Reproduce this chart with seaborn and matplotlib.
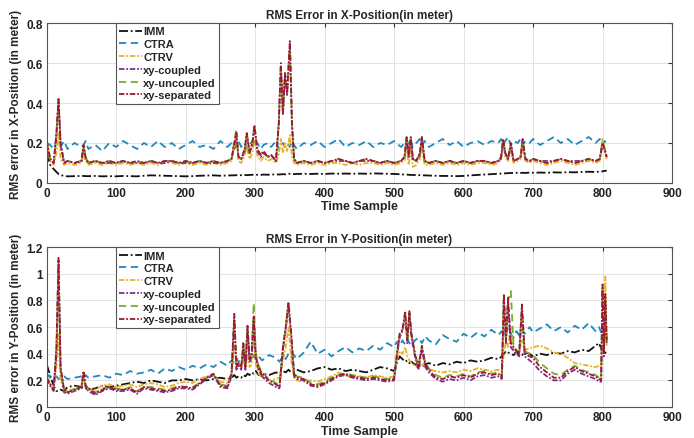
import matplotlib
matplotlib.use("Agg")
import matplotlib.pyplot as plt
import seaborn as sns

NAMES = ["IMM", "CTRA", "CTRV", "xy-coupled", "xy-uncoupled", "xy-separated"]
COLORS = ["#111111", "#1f88bd", "#e8b12a", "#7e2f8e", "#77ac30", "#a2142f"]
STYLES = [(0, (5, 1.5, 1, 1.5)), (0, (4, 2.5)), (0, (3, 1, 1, 1)),
          (0, (3, 1, 1, 1)), (0, (4, 2.5)), (0, (3, 1, 1, 1))]

# ---- X-position (top panel) ----
x_top = [0, 5, 10, 14, 17, 20, 25, 30, 40, 50,
         53, 56, 60, 70, 80, 90, 100, 110, 120, 130,
         140, 150, 160, 170, 180, 190, 200, 210, 220, 230,
         240, 250, 260, 266, 270, 273, 276, 280, 285, 288,
         292, 296, 299, 303, 308, 312, 318, 323, 330, 334,
         337, 340, 343, 346, 350, 353, 356, 360, 370, 380,
         390, 400, 410, 420, 430, 440, 450, 460, 470, 480,
         490, 500, 510, 515, 518, 521, 524, 527, 532, 537,
         540, 544, 550, 560, 570, 580, 590, 600, 610, 620,
         630, 640, 650, 654, 657, 660, 664, 668, 672, 678,
         682, 685, 689, 695, 700, 710, 720, 730, 740, 750,
         760, 770, 780, 790, 796, 800, 803, 806]

imm_x = [0.15, 0.09, 0.07, 0.055, 0.045, 0.04, 0.035, 0.033, 0.034, 0.035,
         0.035, 0.034, 0.034, 0.035, 0.033, 0.034, 0.033, 0.035, 0.034, 0.033,
         0.036, 0.038, 0.037, 0.036, 0.035, 0.034, 0.033, 0.034, 0.036, 0.037,
         0.038, 0.036, 0.037, 0.038, 0.038, 0.039, 0.038, 0.039, 0.040, 0.039,
         0.040, 0.041, 0.040, 0.041, 0.040, 0.042, 0.041, 0.042, 0.043, 0.042,
         0.043, 0.044, 0.043, 0.045, 0.046, 0.045, 0.044, 0.045, 0.046, 0.045,
         0.046, 0.045, 0.047, 0.046, 0.047, 0.046, 0.047, 0.046, 0.048, 0.047,
         0.046, 0.045, 0.043, 0.042, 0.042, 0.041, 0.040, 0.040, 0.039, 0.039,
         0.038, 0.038, 0.037, 0.036, 0.035, 0.035, 0.034, 0.035, 0.038, 0.040,
         0.042, 0.044, 0.046, 0.047, 0.048, 0.048, 0.049, 0.050, 0.050, 0.051,
         0.050, 0.051, 0.050, 0.052, 0.051, 0.052, 0.051, 0.053, 0.052, 0.054,
         0.053, 0.055, 0.056, 0.055, 0.057, 0.058, 0.060, 0.062]

ctra_x = [0.20, 0.19, 0.17, 0.21, 0.19, 0.18, 0.21, 0.17, 0.20, 0.18,
          0.19, 0.21, 0.17, 0.19, 0.16, 0.20, 0.18, 0.21, 0.19, 0.17,
          0.20, 0.18, 0.21, 0.18, 0.20, 0.17, 0.19, 0.21, 0.18, 0.19,
          0.17, 0.21, 0.18, 0.20, 0.17, 0.19, 0.21, 0.18, 0.20, 0.17,
          0.19, 0.21, 0.18, 0.20, 0.17, 0.19, 0.20, 0.18, 0.21, 0.17,
          0.19, 0.20, 0.18, 0.20, 0.18, 0.21, 0.19, 0.17, 0.20, 0.19,
          0.21, 0.18, 0.20, 0.22, 0.18, 0.20, 0.19, 0.21, 0.18, 0.20,
          0.19, 0.21, 0.18, 0.20, 0.22, 0.19, 0.21, 0.18, 0.20, 0.22,
          0.19, 0.21, 0.18, 0.20, 0.22, 0.19, 0.21, 0.18, 0.20, 0.21,
          0.19, 0.21, 0.20, 0.22, 0.19, 0.21, 0.23, 0.19, 0.21, 0.20,
          0.22, 0.19, 0.21, 0.20, 0.22, 0.19, 0.21, 0.23, 0.20, 0.22,
          0.19, 0.21, 0.23, 0.20, 0.22, 0.19, 0.21, 0.20]

ctrv_x = [0.20, 0.11, 0.09, 0.15, 0.25, 0.12, 0.09, 0.10, 0.09, 0.10,
          0.15, 0.11, 0.09, 0.10, 0.09, 0.10, 0.09, 0.10, 0.09, 0.10,
          0.09, 0.10, 0.09, 0.10, 0.10, 0.09, 0.10, 0.09, 0.10, 0.09,
          0.10, 0.09, 0.10, 0.11, 0.18, 0.22, 0.11, 0.10, 0.14, 0.18,
          0.12, 0.15, 0.22, 0.14, 0.11, 0.13, 0.11, 0.12, 0.10, 0.14,
          0.22, 0.15, 0.20, 0.16, 0.24, 0.13, 0.10, 0.09, 0.10, 0.09,
          0.10, 0.09, 0.10, 0.10, 0.09, 0.10, 0.09, 0.10, 0.10, 0.09,
          0.10, 0.09, 0.10, 0.11, 0.18, 0.09, 0.17, 0.08, 0.09, 0.12,
          0.17, 0.09, 0.09, 0.10, 0.09, 0.10, 0.09, 0.10, 0.09, 0.10,
          0.10, 0.09, 0.10, 0.12, 0.20, 0.13, 0.11, 0.16, 0.10, 0.11,
          0.12, 0.17, 0.11, 0.10, 0.11, 0.10, 0.09, 0.10, 0.11, 0.10,
          0.09, 0.10, 0.11, 0.10, 0.11, 0.22, 0.16, 0.12]

coupled_x = [0.21, 0.12, 0.10, 0.24, 0.41, 0.19, 0.10, 0.11, 0.10, 0.11,
             0.18, 0.12, 0.10, 0.11, 0.10, 0.10, 0.10, 0.11, 0.10, 0.10,
             0.10, 0.11, 0.10, 0.10, 0.11, 0.10, 0.10, 0.10, 0.11, 0.10,
             0.10, 0.10, 0.11, 0.12, 0.19, 0.24, 0.13, 0.12, 0.16, 0.24,
             0.15, 0.19, 0.28, 0.16, 0.13, 0.15, 0.13, 0.14, 0.11, 0.29,
             0.58, 0.34, 0.54, 0.44, 0.69, 0.29, 0.12, 0.10, 0.11, 0.10,
             0.11, 0.10, 0.11, 0.11, 0.11, 0.10, 0.11, 0.11, 0.11, 0.10,
             0.11, 0.10, 0.11, 0.13, 0.22, 0.13, 0.22, 0.12, 0.11, 0.14,
             0.22, 0.11, 0.10, 0.11, 0.10, 0.11, 0.10, 0.11, 0.10, 0.11,
             0.11, 0.10, 0.11, 0.12, 0.21, 0.15, 0.12, 0.19, 0.11, 0.12,
             0.13, 0.21, 0.12, 0.11, 0.12, 0.11, 0.11, 0.11, 0.12, 0.11,
             0.11, 0.11, 0.12, 0.11, 0.12, 0.19, 0.17, 0.13]

uncoupled_x = [0.21, 0.12, 0.10, 0.25, 0.42, 0.20, 0.10, 0.11, 0.10, 0.11,
               0.19, 0.13, 0.10, 0.11, 0.10, 0.11, 0.10, 0.11, 0.10, 0.11,
               0.10, 0.11, 0.10, 0.11, 0.11, 0.10, 0.11, 0.10, 0.11, 0.10,
               0.11, 0.10, 0.11, 0.12, 0.21, 0.27, 0.13, 0.12, 0.17, 0.25,
               0.15, 0.20, 0.29, 0.17, 0.14, 0.16, 0.13, 0.14, 0.11, 0.30,
               0.59, 0.35, 0.55, 0.45, 0.70, 0.30, 0.12, 0.10, 0.11, 0.10,
               0.11, 0.10, 0.11, 0.12, 0.11, 0.10, 0.11, 0.12, 0.11, 0.10,
               0.11, 0.10, 0.11, 0.13, 0.23, 0.14, 0.23, 0.12, 0.11, 0.15,
               0.23, 0.11, 0.10, 0.11, 0.10, 0.11, 0.10, 0.11, 0.10, 0.11,
               0.11, 0.10, 0.11, 0.13, 0.22, 0.15, 0.12, 0.20, 0.11, 0.12,
               0.13, 0.22, 0.12, 0.11, 0.12, 0.11, 0.10, 0.11, 0.12, 0.11,
               0.10, 0.11, 0.12, 0.11, 0.12, 0.21, 0.17, 0.13]

separated_x = [0.21, 0.12, 0.10, 0.25, 0.42, 0.20, 0.10, 0.11, 0.10, 0.11,
               0.19, 0.13, 0.10, 0.11, 0.10, 0.11, 0.10, 0.11, 0.10, 0.11,
               0.10, 0.11, 0.10, 0.11, 0.11, 0.10, 0.11, 0.10, 0.11, 0.10,
               0.11, 0.10, 0.11, 0.12, 0.20, 0.25, 0.13, 0.12, 0.17, 0.25,
               0.15, 0.20, 0.29, 0.17, 0.14, 0.16, 0.13, 0.14, 0.11, 0.30,
               0.60, 0.35, 0.55, 0.45, 0.71, 0.30, 0.12, 0.10, 0.11, 0.10,
               0.11, 0.10, 0.11, 0.12, 0.11, 0.10, 0.11, 0.12, 0.11, 0.10,
               0.11, 0.10, 0.11, 0.13, 0.23, 0.14, 0.23, 0.12, 0.11, 0.15,
               0.23, 0.11, 0.10, 0.11, 0.10, 0.11, 0.10, 0.11, 0.10, 0.11,
               0.11, 0.10, 0.11, 0.13, 0.22, 0.15, 0.12, 0.20, 0.11, 0.12,
               0.13, 0.22, 0.12, 0.11, 0.12, 0.11, 0.10, 0.11, 0.12, 0.11,
               0.10, 0.11, 0.12, 0.11, 0.12, 0.20, 0.17, 0.13]

# ---- Y-position (bottom panel) ----
x_bot = [0, 3, 6, 10, 14, 17, 20, 25, 30, 40,
         50, 53, 56, 60, 70, 80, 90, 100, 110, 120,
         130, 140, 150, 160, 170, 180, 190, 200, 210, 220,
         230, 240, 250, 260, 266, 270, 273, 276, 280, 283,
         286, 289, 292, 295, 298, 301, 305, 310, 320, 330,
         335, 340, 344, 348, 352, 356, 360, 370, 380, 390,
         400, 410, 420, 430, 440, 450, 460, 470, 480, 490,
         500, 504, 508, 512, 516, 519, 522, 525, 530, 535,
         540, 545, 550, 560, 570, 580, 590, 600, 610, 620,
         630, 640, 650, 655, 658, 661, 664, 668, 672, 676,
         680, 684, 688, 695, 700, 710, 720, 730, 740, 750,
         760, 770, 780, 790, 795, 798, 800, 802, 804, 806]

imm_y = [0.32, 0.27, 0.22, 0.16, 0.12, 0.12, 0.13, 0.12, 0.15, 0.16,
         0.15, 0.14, 0.14, 0.13, 0.14, 0.16, 0.15, 0.16, 0.17, 0.18,
         0.19, 0.18, 0.20, 0.19, 0.18, 0.20, 0.20, 0.21, 0.20, 0.21,
         0.20, 0.21, 0.22, 0.21, 0.22, 0.24, 0.22, 0.23, 0.22, 0.24,
         0.23, 0.25, 0.24, 0.26, 0.25, 0.27, 0.24, 0.25, 0.24, 0.26,
         0.25, 0.27, 0.26, 0.28, 0.26, 0.27, 0.28, 0.26, 0.27, 0.29,
         0.30, 0.28, 0.29, 0.27, 0.28, 0.27, 0.26, 0.28, 0.30, 0.29,
         0.27, 0.33, 0.38, 0.36, 0.34, 0.35, 0.33, 0.34, 0.32, 0.31,
         0.30, 0.32, 0.33, 0.31, 0.33, 0.32, 0.34, 0.33, 0.35, 0.34,
         0.35, 0.37, 0.36, 0.38, 0.40, 0.42, 0.41, 0.40, 0.39, 0.41,
         0.40, 0.39, 0.41, 0.40, 0.38, 0.40, 0.39, 0.41, 0.40, 0.42,
         0.41, 0.43, 0.42, 0.46, 0.48, 0.44, 0.42, 0.40, 0.41, 0.40]

ctra_y = [0.22, 0.24, 0.21, 0.22, 0.23, 0.21, 0.22, 0.23, 0.21, 0.22,
          0.23, 0.21, 0.24, 0.22, 0.23, 0.24, 0.22, 0.25, 0.24, 0.27,
          0.25, 0.26, 0.28, 0.25, 0.29, 0.27, 0.30, 0.28, 0.31, 0.29,
          0.32, 0.30, 0.34, 0.31, 0.35, 0.33, 0.37, 0.34, 0.36, 0.39,
          0.35, 0.38, 0.36, 0.34, 0.39, 0.36, 0.38, 0.35, 0.39, 0.37,
          0.34, 0.38, 0.36, 0.40, 0.37, 0.39, 0.36, 0.41, 0.49, 0.40,
          0.43, 0.38, 0.42, 0.45, 0.41, 0.44, 0.42, 0.46, 0.43, 0.48,
          0.45, 0.49, 0.46, 0.50, 0.47, 0.51, 0.48, 0.46, 0.50, 0.52,
          0.48, 0.53, 0.50, 0.47, 0.54, 0.51, 0.49, 0.55, 0.52, 0.56,
          0.53, 0.58, 0.54, 0.57, 0.53, 0.56, 0.59, 0.55, 0.52, 0.57,
          0.54, 0.58, 0.55, 0.60, 0.56, 0.59, 0.62, 0.57, 0.60, 0.56,
          0.61, 0.58, 0.63, 0.57, 0.60, 0.56, 0.59, 0.57, 0.60, 0.58]

ctrv_y = [0.22, 0.20, 0.17, 0.14, 0.30, 0.55, 0.20, 0.13, 0.12, 0.14,
          0.16, 0.22, 0.15, 0.14, 0.13, 0.16, 0.17, 0.15, 0.16, 0.17,
          0.15, 0.17, 0.18, 0.17, 0.15, 0.16, 0.18, 0.19, 0.18, 0.21,
          0.23, 0.24, 0.19, 0.18, 0.25, 0.45, 0.35, 0.32, 0.30, 0.36,
          0.30, 0.40, 0.30, 0.32, 0.55, 0.32, 0.25, 0.22, 0.20, 0.21,
          0.22, 0.35, 0.45, 0.60, 0.35, 0.22, 0.20, 0.19, 0.20, 0.19,
          0.21, 0.23, 0.26, 0.24, 0.22, 0.23, 0.22, 0.24, 0.23, 0.22,
          0.23, 0.35, 0.42, 0.40, 0.45, 0.38, 0.35, 0.33, 0.31, 0.29,
          0.33, 0.30, 0.28, 0.27, 0.26, 0.27, 0.26, 0.28, 0.27, 0.29,
          0.28, 0.27, 0.28, 0.26, 0.40, 0.50, 0.45, 0.60, 0.42, 0.40,
          0.42, 0.50, 0.43, 0.44, 0.45, 0.46, 0.44, 0.41, 0.40, 0.37,
          0.33, 0.32, 0.31, 0.30, 0.31, 0.30, 0.50, 0.60, 0.98, 0.45]

coupled_y = [0.21, 0.18, 0.15, 0.12, 0.40, 1.05, 0.28, 0.11, 0.10, 0.12,
             0.14, 0.24, 0.15, 0.12, 0.09, 0.12, 0.14, 0.12, 0.12, 0.13,
             0.10, 0.14, 0.13, 0.12, 0.11, 0.12, 0.14, 0.14, 0.13, 0.17,
             0.21, 0.24, 0.15, 0.14, 0.23, 0.65, 0.28, 0.31, 0.28, 0.45,
             0.28, 0.58, 0.34, 0.38, 0.65, 0.36, 0.28, 0.23, 0.18, 0.15,
             0.14, 0.42, 0.58, 0.76, 0.52, 0.23, 0.21, 0.20, 0.16, 0.15,
             0.17, 0.20, 0.23, 0.24, 0.22, 0.21, 0.20, 0.21, 0.20, 0.19,
             0.20, 0.38, 0.52, 0.57, 0.68, 0.48, 0.70, 0.52, 0.38, 0.28,
             0.43, 0.30, 0.26, 0.21, 0.19, 0.21, 0.20, 0.22, 0.20, 0.23,
             0.24, 0.22, 0.23, 0.21, 0.80, 0.48, 0.78, 0.45, 0.42, 0.40,
             0.38, 0.72, 0.38, 0.35, 0.33, 0.27, 0.23, 0.20, 0.20, 0.25,
             0.28, 0.25, 0.23, 0.21, 0.19, 0.19, 0.88, 0.38, 0.80, 0.48]

uncoupled_y = [0.22, 0.19, 0.16, 0.13, 0.44, 1.10, 0.29, 0.13, 0.11, 0.13,
               0.15, 0.26, 0.16, 0.14, 0.11, 0.14, 0.15, 0.14, 0.13, 0.15,
               0.12, 0.15, 0.15, 0.14, 0.13, 0.14, 0.16, 0.15, 0.15, 0.18,
               0.22, 0.24, 0.17, 0.16, 0.26, 0.68, 0.30, 0.33, 0.31, 0.47,
               0.31, 0.60, 0.37, 0.41, 0.78, 0.40, 0.31, 0.26, 0.21, 0.18,
               0.16, 0.44, 0.60, 0.78, 0.54, 0.26, 0.23, 0.22, 0.18, 0.17,
               0.19, 0.22, 0.24, 0.25, 0.24, 0.23, 0.22, 0.23, 0.22, 0.21,
               0.22, 0.40, 0.54, 0.58, 0.70, 0.50, 0.71, 0.54, 0.40, 0.31,
               0.45, 0.33, 0.29, 0.24, 0.22, 0.24, 0.23, 0.25, 0.23, 0.26,
               0.27, 0.25, 0.26, 0.23, 0.83, 0.50, 0.80, 0.87, 0.45, 0.43,
               0.41, 0.75, 0.42, 0.40, 0.39, 0.33, 0.29, 0.25, 0.24, 0.28,
               0.31, 0.28, 0.26, 0.24, 0.22, 0.21, 0.90, 0.42, 0.83, 0.50]

separated_y = [0.22, 0.19, 0.16, 0.13, 0.45, 1.12, 0.30, 0.13, 0.11, 0.13,
               0.15, 0.27, 0.16, 0.14, 0.10, 0.13, 0.15, 0.13, 0.13, 0.14,
               0.11, 0.15, 0.14, 0.13, 0.12, 0.13, 0.15, 0.15, 0.14, 0.18,
               0.22, 0.25, 0.16, 0.15, 0.25, 0.70, 0.30, 0.33, 0.30, 0.48,
               0.30, 0.61, 0.36, 0.40, 0.68, 0.38, 0.30, 0.25, 0.20, 0.17,
               0.15, 0.45, 0.60, 0.79, 0.55, 0.25, 0.22, 0.21, 0.17, 0.16,
               0.18, 0.21, 0.24, 0.25, 0.23, 0.22, 0.21, 0.22, 0.21, 0.20,
               0.21, 0.40, 0.55, 0.58, 0.72, 0.50, 0.72, 0.55, 0.40, 0.30,
               0.46, 0.32, 0.28, 0.22, 0.21, 0.23, 0.22, 0.24, 0.22, 0.25,
               0.26, 0.24, 0.25, 0.22, 0.85, 0.50, 0.82, 0.48, 0.45, 0.42,
               0.40, 0.77, 0.40, 0.38, 0.37, 0.30, 0.26, 0.22, 0.22, 0.27,
               0.30, 0.27, 0.25, 0.23, 0.21, 0.20, 0.92, 0.40, 0.85, 0.50]

TOP_SERIES = [imm_x, ctra_x, ctrv_x, coupled_x, uncoupled_x, separated_x]
BOT_SERIES = [imm_y, ctra_y, ctrv_y, coupled_y, uncoupled_y, separated_y]

sns.set_style("whitegrid")
plt.rcParams["font.family"] = ["Liberation Sans", "DejaVu Sans"]
plt.rcParams["font.weight"] = "bold"

fig = plt.figure(figsize=(6.94, 4.39), dpi=100)
ax_top = fig.add_axes([0.0673, 0.581, 0.901, 0.364])
ax_bot = fig.add_axes([0.0673, 0.0706, 0.901, 0.364])


def draw_panel(ax, xs, series, ymax, yticks, yticklabels, title, ylabel):
    for name, vals, col, ls in zip(NAMES, series, COLORS, STYLES):
        sns.lineplot(x=xs, y=vals, ax=ax, color=col, linestyle=ls,
                     linewidth=1.3, label=name, estimator=None)
    ax.set_xlim(0, 900)
    ax.set_ylim(0, ymax)
    ax.set_xticks(range(0, 901, 100))
    ax.set_yticks(yticks)
    ax.set_yticklabels(yticklabels)
    ax.tick_params(direction="in", length=3, top=True, right=True,
                   labelsize=8.5, color="#333333", pad=3)
    for lab in ax.get_xticklabels() + ax.get_yticklabels():
        lab.set_fontweight("bold")
        lab.set_color("#222222")
    ax.grid(True, color="#e3e3e3", linewidth=0.7)
    for sp in ax.spines.values():
        sp.set_color("#555555")
        sp.set_linewidth(0.8)
    ax.set_title(title, fontsize=8.5, fontweight="bold", pad=4)
    ax.set_xlabel("Time Sample", fontsize=9, fontweight="bold", labelpad=1)
    ax.set_ylabel(ylabel, fontsize=8.5, fontweight="bold", labelpad=3)
    leg = ax.legend(loc="upper left", bbox_to_anchor=(0.111, 1.0),
                    borderaxespad=0, fancybox=False, frameon=True,
                    labelspacing=0.25, handlelength=2.0,
                    handletextpad=0.12, borderpad=0.3,
                    prop={"weight": "bold", "size": 8})
    leg.get_frame().set_edgecolor("#555555")
    leg.get_frame().set_linewidth(0.8)
    leg.get_frame().set_alpha(1)


draw_panel(ax_top, x_top, TOP_SERIES, 0.8, [0, 0.2, 0.4, 0.6, 0.8],
           ["0", "0.2", "0.4", "0.6", "0.8"],
           "RMS Error in X-Position(in meter)",
           "RMS error in X-Position (in meter)")
draw_panel(ax_bot, x_bot, BOT_SERIES, 1.2, [0, 0.2, 0.4, 0.6, 0.8, 1, 1.2],
           ["0", "0.2", "0.4", "0.6", "0.8", "1", "1.2"],
           "RMS Error in Y-Position(in meter)",
           "RMS error in Y-Position (in meter)")

fig.savefig("out.png", dpi=100)
